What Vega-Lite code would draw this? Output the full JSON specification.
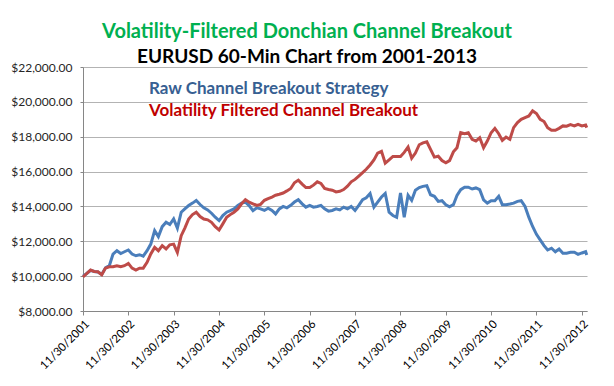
{
  "$schema": "https://vega.github.io/schema/vega-lite/v6.json",
  "width": 504,
  "height": 244,
  "autosize": "none",
  "padding": {"left": 83, "top": 67, "right": 27, "bottom": 75},
  "background": "white",
  "title": {
    "text": "Volatility-Filtered Donchian Channel Breakout",
    "subtitle": "EURUSD 60-Min Chart from 2001-2013",
    "color": "#00b050",
    "subtitleColor": "#000000",
    "font": "Lato",
    "subtitleFont": "Lato",
    "fontSize": 20,
    "subtitleFontSize": 19,
    "fontWeight": "bold",
    "subtitleFontWeight": "bold",
    "anchor": "middle",
    "frame": "group",
    "dx": -28,
    "offset": -6,
    "subtitlePadding": 6
  },
  "data": {
    "values": [
      {"d": "2001-11-30", "raw": 10000, "vol": 9950},
      {"d": "2001-12-30", "raw": 10150, "vol": 10150},
      {"d": "2002-01-30", "raw": 10330, "vol": 10350},
      {"d": "2002-02-28", "raw": 10270, "vol": 10270},
      {"d": "2002-03-30", "raw": 10240, "vol": 10250},
      {"d": "2002-04-30", "raw": 10100, "vol": 10080},
      {"d": "2002-05-30", "raw": 10480, "vol": 10460},
      {"d": "2002-06-30", "raw": 10600, "vol": 10540},
      {"d": "2002-07-30", "raw": 11270, "vol": 10540},
      {"d": "2002-08-30", "raw": 11460, "vol": 10600},
      {"d": "2002-09-30", "raw": 11300, "vol": 10540},
      {"d": "2002-10-30", "raw": 11400, "vol": 10600},
      {"d": "2002-11-30", "raw": 11500, "vol": 10730},
      {"d": "2002-12-30", "raw": 11270, "vol": 10460},
      {"d": "2003-01-30", "raw": 11170, "vol": 10350},
      {"d": "2003-02-28", "raw": 11230, "vol": 10460},
      {"d": "2003-03-30", "raw": 11150, "vol": 10460},
      {"d": "2003-04-30", "raw": 11460, "vol": 10790},
      {"d": "2003-05-30", "raw": 11840, "vol": 11270},
      {"d": "2003-06-30", "raw": 12610, "vol": 11650},
      {"d": "2003-07-30", "raw": 12270, "vol": 11460},
      {"d": "2003-08-30", "raw": 12840, "vol": 11750},
      {"d": "2003-09-30", "raw": 13090, "vol": 11560},
      {"d": "2003-10-30", "raw": 12960, "vol": 11800},
      {"d": "2003-11-30", "raw": 13280, "vol": 11840},
      {"d": "2003-12-30", "raw": 12760, "vol": 11360},
      {"d": "2004-01-30", "raw": 13670, "vol": 12320},
      {"d": "2004-02-28", "raw": 13860, "vol": 12760},
      {"d": "2004-03-30", "raw": 14050, "vol": 13280},
      {"d": "2004-04-30", "raw": 14190, "vol": 13530},
      {"d": "2004-05-30", "raw": 14340, "vol": 13670},
      {"d": "2004-06-30", "raw": 14110, "vol": 13420},
      {"d": "2004-07-30", "raw": 13920, "vol": 13280},
      {"d": "2004-08-30", "raw": 13800, "vol": 13230},
      {"d": "2004-09-30", "raw": 13610, "vol": 13090},
      {"d": "2004-10-30", "raw": 13380, "vol": 12840},
      {"d": "2004-11-30", "raw": 13190, "vol": 12650},
      {"d": "2004-12-30", "raw": 13480, "vol": 13000},
      {"d": "2005-01-30", "raw": 13670, "vol": 13380},
      {"d": "2005-02-28", "raw": 13760, "vol": 13530},
      {"d": "2005-03-30", "raw": 13860, "vol": 13670},
      {"d": "2005-04-30", "raw": 14050, "vol": 13860},
      {"d": "2005-05-30", "raw": 14190, "vol": 14150},
      {"d": "2005-06-30", "raw": 14240, "vol": 14380},
      {"d": "2005-07-30", "raw": 14050, "vol": 14240},
      {"d": "2005-08-30", "raw": 13760, "vol": 14150},
      {"d": "2005-09-30", "raw": 13920, "vol": 14060},
      {"d": "2005-10-30", "raw": 13860, "vol": 14120},
      {"d": "2005-11-30", "raw": 13770, "vol": 14350},
      {"d": "2005-12-30", "raw": 13900, "vol": 14450},
      {"d": "2006-01-30", "raw": 13770, "vol": 14540},
      {"d": "2006-02-28", "raw": 13570, "vol": 14640},
      {"d": "2006-03-30", "raw": 13860, "vol": 14700},
      {"d": "2006-04-30", "raw": 14000, "vol": 14770},
      {"d": "2006-05-30", "raw": 13920, "vol": 14890},
      {"d": "2006-06-30", "raw": 14060, "vol": 15030},
      {"d": "2006-07-30", "raw": 14250, "vol": 15360},
      {"d": "2006-08-30", "raw": 14390, "vol": 15510},
      {"d": "2006-09-30", "raw": 14150, "vol": 15280},
      {"d": "2006-10-30", "raw": 13960, "vol": 15080},
      {"d": "2006-11-30", "raw": 14060, "vol": 15080},
      {"d": "2006-12-30", "raw": 13960, "vol": 15220},
      {"d": "2007-01-30", "raw": 14000, "vol": 15410},
      {"d": "2007-02-28", "raw": 14060, "vol": 15320},
      {"d": "2007-03-30", "raw": 13860, "vol": 15030},
      {"d": "2007-04-30", "raw": 13730, "vol": 14970},
      {"d": "2007-05-30", "raw": 13770, "vol": 14930},
      {"d": "2007-06-30", "raw": 13860, "vol": 14830},
      {"d": "2007-07-30", "raw": 13800, "vol": 14870},
      {"d": "2007-08-30", "raw": 13960, "vol": 14970},
      {"d": "2007-09-30", "raw": 13860, "vol": 15160},
      {"d": "2007-10-30", "raw": 14000, "vol": 15410},
      {"d": "2007-11-30", "raw": 13770, "vol": 15550},
      {"d": "2007-12-30", "raw": 14060, "vol": 15740},
      {"d": "2008-01-30", "raw": 14390, "vol": 15940},
      {"d": "2008-02-28", "raw": 14500, "vol": 16130},
      {"d": "2008-03-30", "raw": 14740, "vol": 16380},
      {"d": "2008-04-30", "raw": 13960, "vol": 16670},
      {"d": "2008-05-30", "raw": 14250, "vol": 17060},
      {"d": "2008-06-30", "raw": 14540, "vol": 17160},
      {"d": "2008-07-30", "raw": 14740, "vol": 16480},
      {"d": "2008-08-30", "raw": 13670, "vol": 16670},
      {"d": "2008-09-30", "raw": 13480, "vol": 16870},
      {"d": "2008-10-30", "raw": 13380, "vol": 16870},
      {"d": "2008-11-30", "raw": 14770, "vol": 16870},
      {"d": "2008-12-30", "raw": 13380, "vol": 17100},
      {"d": "2009-01-30", "raw": 14640, "vol": 17410},
      {"d": "2009-02-28", "raw": 14350, "vol": 16770},
      {"d": "2009-03-30", "raw": 14930, "vol": 17060},
      {"d": "2009-04-30", "raw": 15080, "vol": 17540},
      {"d": "2009-05-30", "raw": 15150, "vol": 17650},
      {"d": "2009-06-30", "raw": 15190, "vol": 17710},
      {"d": "2009-07-30", "raw": 14670, "vol": 17270},
      {"d": "2009-08-30", "raw": 14580, "vol": 16830},
      {"d": "2009-09-30", "raw": 14290, "vol": 16880},
      {"d": "2009-10-30", "raw": 14330, "vol": 16630},
      {"d": "2009-11-30", "raw": 14100, "vol": 16500},
      {"d": "2009-12-30", "raw": 13980, "vol": 16630},
      {"d": "2010-01-30", "raw": 14100, "vol": 17130},
      {"d": "2010-02-28", "raw": 14630, "vol": 17370},
      {"d": "2010-03-30", "raw": 14960, "vol": 18230},
      {"d": "2010-04-30", "raw": 15100, "vol": 18170},
      {"d": "2010-05-30", "raw": 15100, "vol": 18230},
      {"d": "2010-06-30", "raw": 15000, "vol": 17850},
      {"d": "2010-07-30", "raw": 15060, "vol": 17750},
      {"d": "2010-08-30", "raw": 14960, "vol": 17940},
      {"d": "2010-09-30", "raw": 14380, "vol": 17370},
      {"d": "2010-10-30", "raw": 14190, "vol": 17750},
      {"d": "2010-11-30", "raw": 14330, "vol": 18230},
      {"d": "2010-12-30", "raw": 14330, "vol": 18480},
      {"d": "2011-01-30", "raw": 14580, "vol": 18170},
      {"d": "2011-02-28", "raw": 14100, "vol": 17790},
      {"d": "2011-03-30", "raw": 14100, "vol": 17980},
      {"d": "2011-04-30", "raw": 14140, "vol": 17850},
      {"d": "2011-05-30", "raw": 14190, "vol": 18520},
      {"d": "2011-06-30", "raw": 14290, "vol": 18810},
      {"d": "2011-07-30", "raw": 14330, "vol": 19000},
      {"d": "2011-08-30", "raw": 14000, "vol": 19100},
      {"d": "2011-09-30", "raw": 13370, "vol": 19190},
      {"d": "2011-10-30", "raw": 12850, "vol": 19480},
      {"d": "2011-11-30", "raw": 12400, "vol": 19330},
      {"d": "2011-12-30", "raw": 12080, "vol": 19000},
      {"d": "2012-01-30", "raw": 11750, "vol": 18870},
      {"d": "2012-02-28", "raw": 11500, "vol": 18520},
      {"d": "2012-03-30", "raw": 11600, "vol": 18370},
      {"d": "2012-04-30", "raw": 11400, "vol": 18370},
      {"d": "2012-05-30", "raw": 11560, "vol": 18480},
      {"d": "2012-06-30", "raw": 11310, "vol": 18620},
      {"d": "2012-07-30", "raw": 11310, "vol": 18600},
      {"d": "2012-08-30", "raw": 11370, "vol": 18690},
      {"d": "2012-09-30", "raw": 11370, "vol": 18620},
      {"d": "2012-10-30", "raw": 11250, "vol": 18710},
      {"d": "2012-11-30", "raw": 11330, "vol": 18620},
      {"d": "2012-12-30", "raw": 11400, "vol": 18670},
      {"d": "2013-01-08", "raw": 11210, "vol": 18520}
    ]
  },
  "transform": [{"fold": ["raw", "vol"], "as": ["s", "v"]}],
  "mark": {"type": "line", "strokeWidth": 3},
  "encoding": {
    "x": {
      "field": "d",
      "type": "temporal",
      "scale": {
        "type": "utc",
        "domain": [
          {"year": 2001, "month": 11, "date": 30, "utc": true},
          {"year": 2013, "month": 1, "date": 10, "utc": true}
        ]
      },
      "axis": {
        "title": null,
        "grid": false,
        "values": [
          {"year": 2001, "month": 11, "date": 30, "utc": true},
          {"year": 2002, "month": 11, "date": 30, "utc": true},
          {"year": 2003, "month": 11, "date": 30, "utc": true},
          {"year": 2004, "month": 11, "date": 30, "utc": true},
          {"year": 2005, "month": 11, "date": 30, "utc": true},
          {"year": 2006, "month": 11, "date": 30, "utc": true},
          {"year": 2007, "month": 11, "date": 30, "utc": true},
          {"year": 2008, "month": 11, "date": 30, "utc": true},
          {"year": 2009, "month": 11, "date": 30, "utc": true},
          {"year": 2010, "month": 11, "date": 30, "utc": true},
          {"year": 2011, "month": 11, "date": 30, "utc": true},
          {"year": 2012, "month": 11, "date": 30, "utc": true}
        ],
        "format": "%m/%d/%Y",
        "labelAngle": -45,
        "labelFont": "Lato",
        "labelFontSize": 11.5,
        "labelColor": "#000000",
        "labelPadding": 3,
        "labelOverlap": false,
        "domainColor": "#868686",
        "tickColor": "#868686",
        "tickSize": 4
      }
    },
    "y": {
      "field": "v",
      "type": "quantitative",
      "scale": {"domain": [8000, 22000], "nice": false},
      "axis": {
        "title": null,
        "values": [8000, 10000, 12000, 14000, 16000, 18000, 20000, 22000],
        "format": "$,.2f",
        "labelFont": "Lato",
        "labelFontSize": 12,
        "labelColor": "#262626",
        "labelPadding": 8,
        "grid": true,
        "gridColor": "#b3b3b3",
        "domainColor": "#868686",
        "tickColor": "#868686",
        "tickSize": 3
      }
    },
    "color": {
      "field": "s",
      "type": "nominal",
      "scale": {"domain": ["raw", "vol"], "range": ["#4a7ebb", "#be4b48"]},
      "legend": {
        "orient": "none",
        "legendX": 66,
        "legendY": 13,
        "title": null,
        "symbolSize": 0,
        "symbolStrokeWidth": 0,
        "labelOffset": 0,
        "labelFont": "Lato",
        "labelFontSize": 17,
        "labelFontWeight": "bold",
        "rowPadding": 4,
        "labelLimit": 400,
        "labelExpr": "datum.value === 'raw' ? 'Raw Channel Breakout Strategy' : 'Volatility Filtered Channel Breakout'",
        "encode": {
          "labels": {
            "update": {
              "fill": {"signal": "datum.value === 'raw' ? '#376092' : '#c00000'"},
              "x": {"value": 0}
            }
          }
        }
      }
    }
  },
  "config": {"view": {"stroke": null}}
}
